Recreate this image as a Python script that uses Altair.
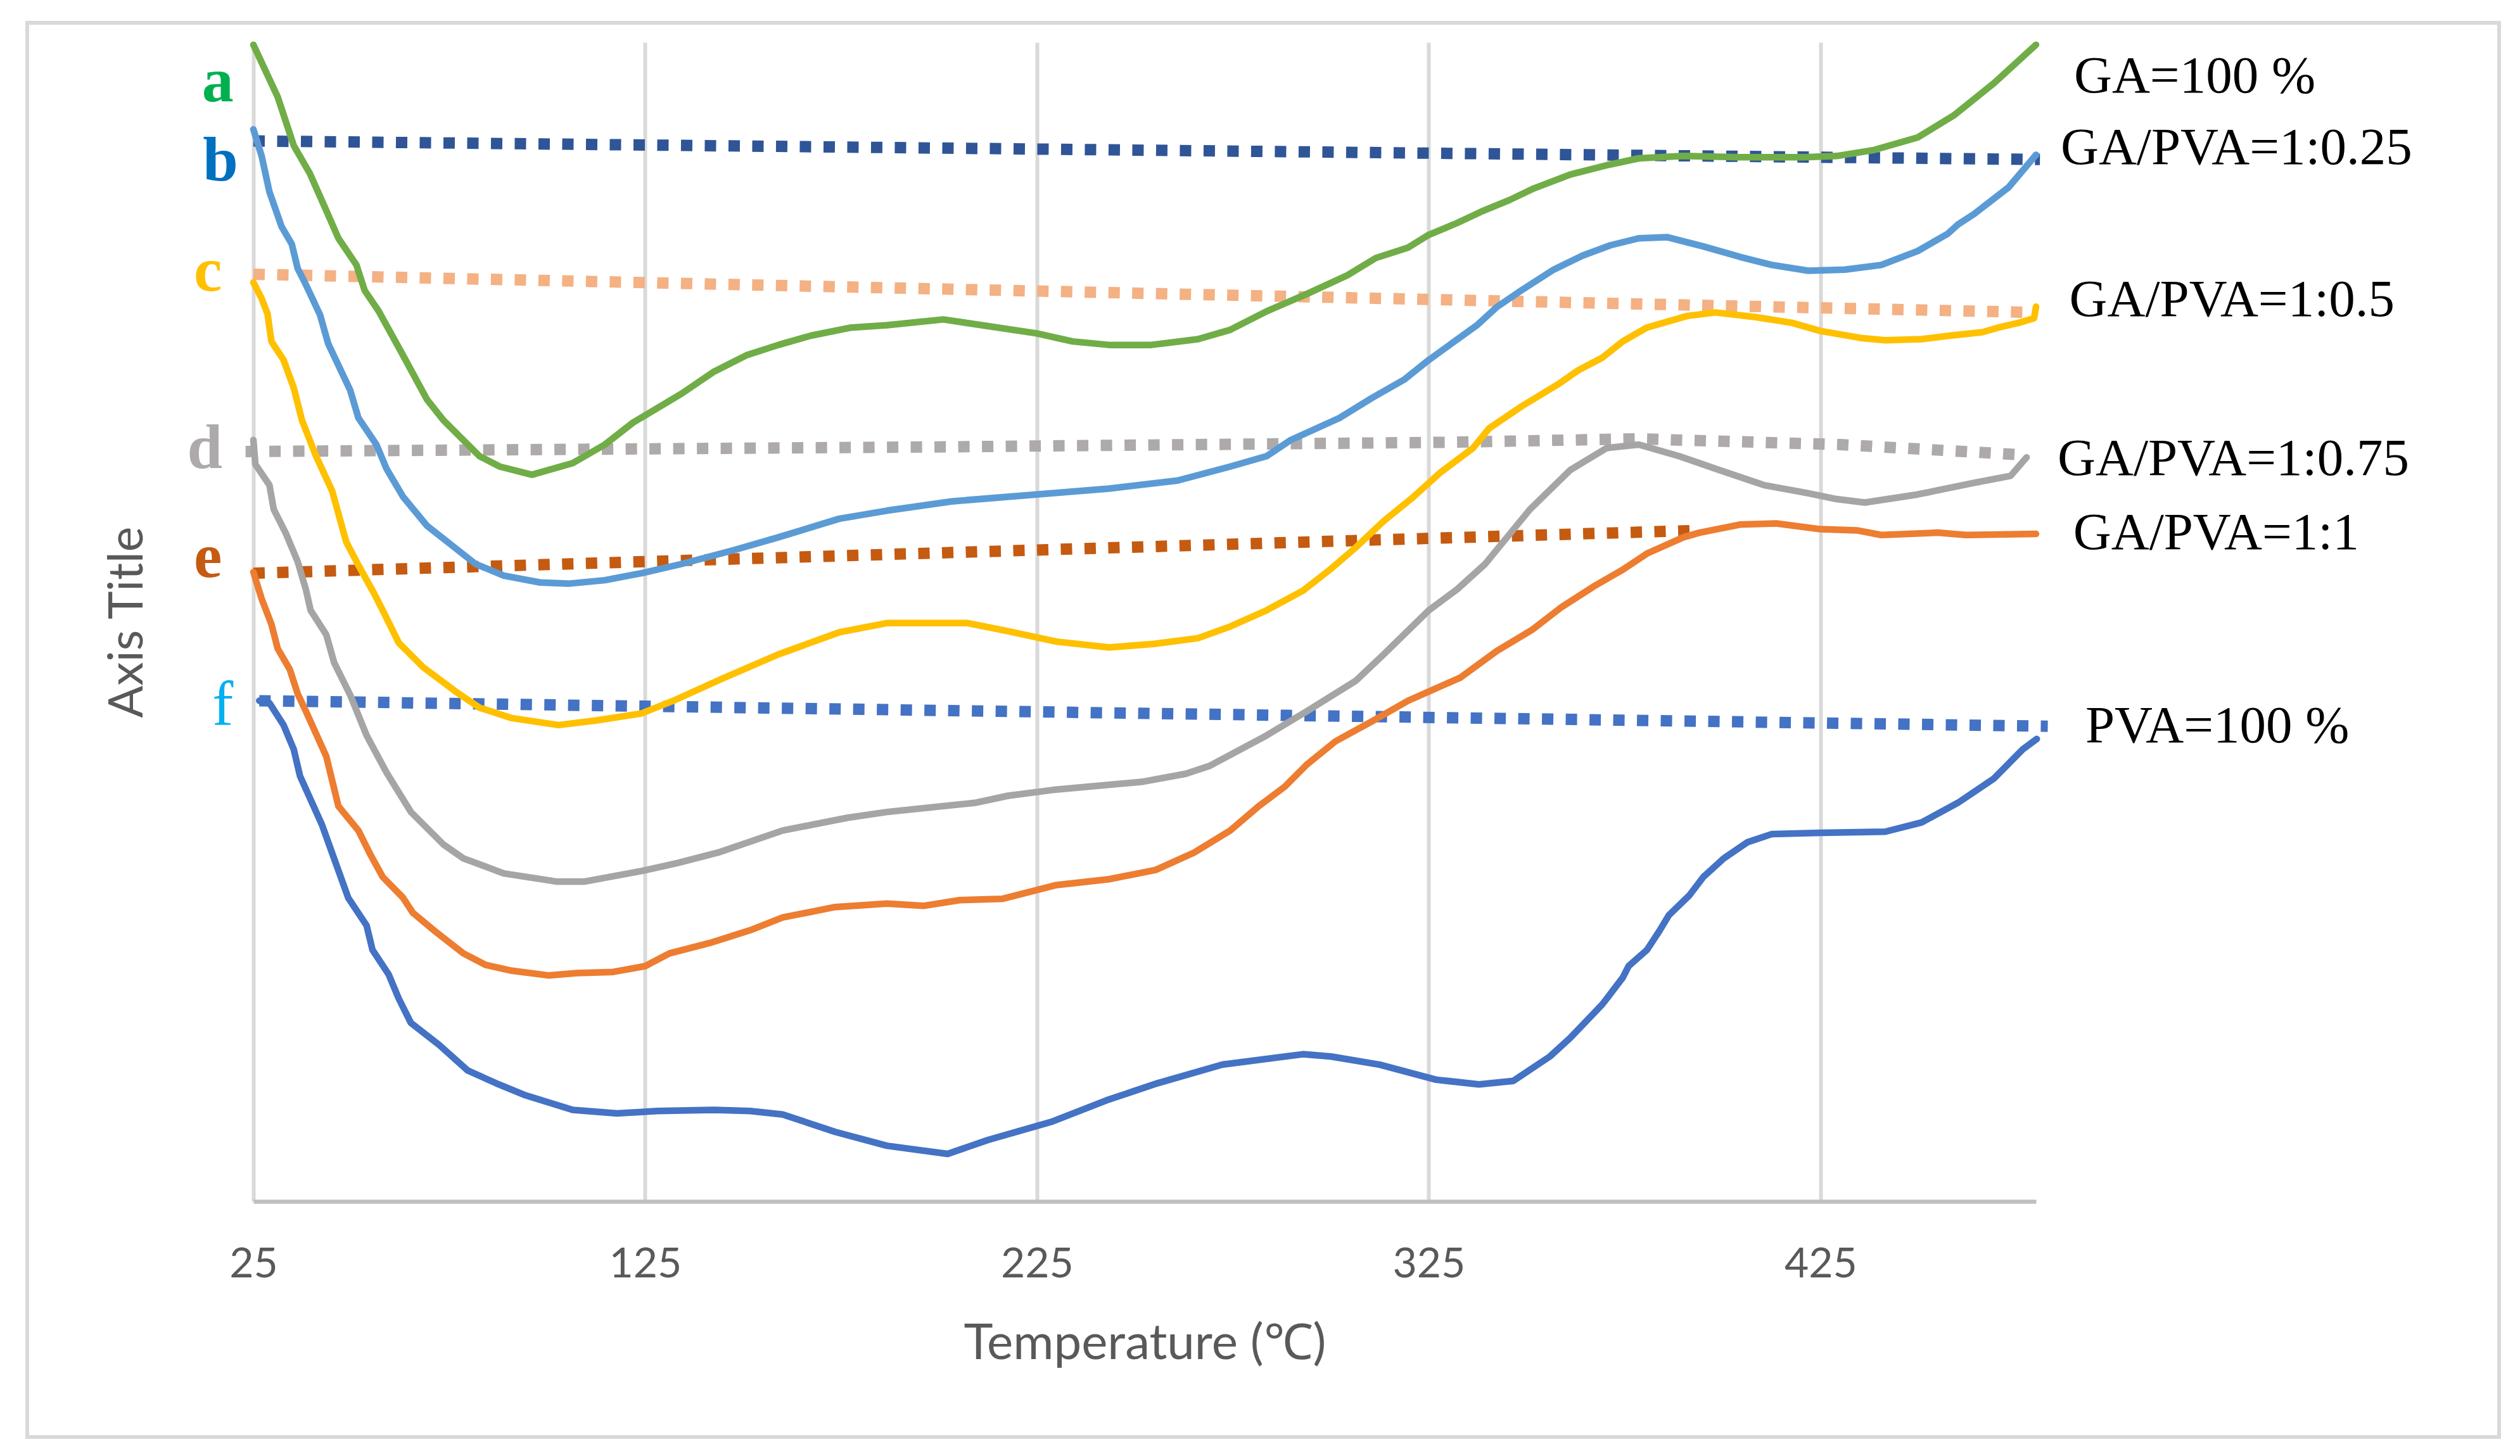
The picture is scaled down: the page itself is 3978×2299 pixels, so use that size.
import altair as alt
import pandas as pd

# ---------------- data (temperature in °C, signal in arbitrary units 0-100) ----------------
ga100_T = [25, 31.2, 35.3, 39.4, 43.6, 46.7, 51.3, 53.4, 57.0, 63.2, 69.3, 73.5, 82.7, 87.9, 96.1, 106.5,
           114.7, 121.9, 134.3, 142.6, 150.8, 159.0, 167.3, 177.6, 186.7, 201.1, 224.9, 234.1, 243.4, 254.2,
           266.1, 274.3, 283.6, 293.9, 304.2, 311.5, 319.7, 325.0, 332.1, 338.4, 345.6, 351.8, 361.1, 370.4,
           378.6, 389.9, 404.4, 420.9, 429.1, 438.4, 449.8, 459.0, 469.3, 480]
ga100_P = [99.8, 95.3, 91.1, 88.7, 85.5, 83.1, 80.8, 78.6, 76.8, 73.0, 69.2, 67.4, 64.3, 63.4, 62.7, 63.7,
           65.3, 67.2, 69.7, 71.6, 73.0, 73.9, 74.7, 75.4, 75.6, 76.1, 74.9, 74.2, 73.9, 73.9,
           74.4, 75.2, 76.8, 78.3, 79.9, 81.4, 82.3, 83.4, 84.4, 85.4, 86.4, 87.4, 88.6, 89.4,
           90.0, 90.2, 90.1, 90.1, 90.2, 90.7, 91.8, 93.7, 96.5, 99.8]

r025_T = [25, 27.1, 29.1, 32.2, 34.8, 36.3, 38.4, 42.0, 44.1, 49.7, 51.8, 56.4, 59.0, 63.2, 69.3, 81.7,
          88.9, 98.2, 105.4, 114.7, 124.0, 134.3, 147.7, 159.0, 174.5, 186.7, 203.2, 224.9, 243.4, 260.9,
          274.3, 283.6, 289.8, 302.2, 310.4, 318.7, 325.0, 337.3, 342.5, 348.6, 356.9, 364.2, 371.4, 378.6,
          385.8, 395.1, 404.4, 412.6, 421.9, 431.2, 440.5, 449.8, 457.5, 460.1, 464.2, 473.0, 480]
r025_P = [92.5, 90.2, 87.1, 84.1, 82.6, 80.5, 79.1, 76.5, 74.0, 70.0, 67.6, 65.3, 63.2, 60.8, 58.3, 55.0,
          54.0, 53.4, 53.3, 53.6, 54.2, 55.0, 56.2, 57.3, 58.9, 59.6, 60.4, 61.0, 61.5, 62.2,
          63.4, 64.3, 65.7, 67.6, 69.3, 70.9, 72.6, 75.6, 77.2, 78.6, 80.4, 81.6, 82.5, 83.1,
          83.2, 82.4, 81.5, 80.8, 80.3, 80.4, 80.8, 82.0, 83.5, 84.3, 85.2, 87.5, 90.3]

r05_T = [25, 27.1, 28.6, 29.6, 32.7, 35.3, 37.4, 41.0, 45.1, 48.7, 51.8, 55.9, 58.0, 62.1, 68.3, 76.6,
         82.7, 91.0, 102.9, 112.6, 124.0, 132.2, 144.6, 159.0, 174.5, 186.7, 207.3, 217.6, 230.0, 243.4,
         254.8, 266.1, 274.3, 283.6, 292.9, 300.1, 306.3, 313.5, 320.8, 328.0, 336.3, 340.4, 348.7, 358.0,
         363.1, 369.3, 374.5, 380.7, 391.0, 398.2, 408.5, 417.8, 425.0, 435.3, 441.5, 450.8, 458.0, 466.3,
         470.4, 475.5, 479.5, 480]
r05_P = [79.3, 77.9, 76.6, 74.2, 72.6, 70.2, 67.4, 64.3, 61.3, 56.9, 54.9, 52.4, 51.0, 48.2, 46.1, 44.0,
         42.6, 41.7, 41.1, 41.5, 42.1, 43.2, 45.1, 47.2, 49.1, 49.9, 49.9, 49.2, 48.3, 47.8,
         48.1, 48.6, 49.6, 51.0, 52.7, 54.6, 56.4, 58.7, 60.7, 62.9, 65.0, 66.7, 68.6, 70.5,
         71.7, 72.8, 74.2, 75.4, 76.4, 76.7, 76.3, 75.8, 75.1, 74.5, 74.3, 74.4, 74.7, 75.0,
         75.4, 75.8, 76.2, 77.2]

r075_T = [25, 25.5, 29.1, 30.2, 33.2, 36.3, 38.4, 39.6, 43.6, 45.6, 49.7, 53.9, 59.0, 65.2, 73.5, 78.6,
          88.9, 102.3, 109.6, 124.0, 133.3, 143.6, 160.1, 176.6, 186.7, 209.4, 217.6, 229.0, 251.7, 263.0,
          269.2, 283.6, 293.9, 306.3, 313.5, 325.0, 332.2, 339.4, 350.8, 361.1, 370.4, 378.6, 388.9, 399.2,
          410.6, 421.9, 429.1, 436.3, 449.8, 464.2, 473.5, 477.6]
r075_P = [65.7, 63.6, 61.8, 59.7, 57.7, 55.2, 52.8, 51.0, 48.9, 46.5, 43.7, 40.2, 37.0, 33.6, 30.8, 29.6,
          28.3, 27.6, 27.6, 28.5, 29.2, 30.1, 32.0, 33.1, 33.6, 34.4, 35.0, 35.5, 36.2, 36.9,
          37.6, 40.2, 42.3, 44.9, 47.2, 51.0, 52.8, 55.0, 59.7, 63.1, 65.0, 65.3, 64.3, 63.1,
          61.8, 61.1, 60.6, 60.3, 61.0, 62.0, 62.6, 64.2]

r1_T = [25, 27.1, 29.6, 31.2, 34.3, 36.3, 38.4, 43.6, 46.7, 51.8, 54.9, 58.0, 63.2, 65.7, 71.4, 78.6,
        84.3, 91.0, 100.3, 107.5, 116.8, 125.0, 131.2, 141.5, 151.8, 160.1, 173.5, 186.7, 196.0, 205.3,
        216.1, 230.0, 243.4, 255.3, 265.1, 274.3, 281.6, 288.3, 293.9, 301.2, 310.4, 319.7, 333.1, 342.4,
        351.3, 359.0, 367.3, 374.5, 380.7, 390.0, 394.1, 404.4, 413.7, 425.0, 434.3, 440.5, 454.9, 462.1, 480]
r1_P = [54.3, 52.0, 49.8, 47.7, 45.9, 43.8, 42.3, 38.4, 34.1, 32.0, 29.9, 28.0, 26.2, 24.9, 23.3, 21.4,
        20.4, 19.9, 19.5, 19.7, 19.8, 20.3, 21.4, 22.3, 23.4, 24.5, 25.4, 25.7, 25.5, 26.0,
        26.1, 27.3, 27.8, 28.6, 30.1, 32.0, 34.1, 35.8, 37.7, 39.7, 41.4, 43.2, 45.2, 47.5,
        49.3, 51.3, 53.1, 54.5, 55.9, 57.3, 57.7, 58.4, 58.5, 58.0, 57.9, 57.5, 57.7, 57.5, 57.6]

pva_T = [26.5, 29.1, 32.7, 35.3, 36.9, 42.5, 49.2, 53.9, 55.4, 59.5, 62.1, 65.2, 72.4, 79.7, 86.9, 94.1,
         106.5, 117.8, 128.1, 142.6, 151.8, 160.1, 173.5, 186.7, 202.2, 212.5, 229.0, 243.4, 255.8, 272.3,
         292.9, 300.1, 312.5, 326.9, 337.8, 346.6, 355.9, 361.1, 369.3, 374.5, 376.0, 380.7, 383.8, 386.3,
         391.5, 395.1, 400.3, 406.4, 412.6, 425.0, 441.5, 450.8, 460.1, 469.3, 476.6, 480.2]
pva_P = [43.2, 43.0, 41.1, 39.0, 36.7, 32.5, 26.2, 23.8, 21.7, 19.6, 17.5, 15.4, 13.5, 11.3, 10.2, 9.2,
         7.9, 7.6, 7.8, 7.9, 7.8, 7.5, 6.0, 4.8, 4.1, 5.3, 6.9, 8.8, 10.2, 11.8,
         12.7, 12.5, 11.8, 10.5, 10.1, 10.4, 12.5, 14.1, 17.0, 19.3, 20.3, 21.7, 23.3, 24.7,
         26.4, 28.0, 29.6, 31.0, 31.7, 31.8, 31.9, 32.7, 34.4, 36.5, 39.0, 39.9]

# dotted baselines
b_dot_T = [25, 481];  b_dot_P = [91.5, 89.9]
c_dot_T = [25, 480];  c_dot_P = [80.0, 76.7]
d_dot_T = [23, 200, 330, 378, 430, 477.6];  d_dot_P = [64.7, 65.1, 65.5, 65.8, 65.3, 64.4]
e_dot_T = [25, 394];  e_dot_P = [54.2, 57.9]
f_dot_T = [26.5, 483];  f_dot_P = [43.2, 41.0]

# annotations
series_labels = ["GA=100 %", "GA/PVA=1:0.25", "GA/PVA=1:0.5", "GA/PVA=1:0.75", "GA/PVA=1:1", "PVA=100 %"]
series_label_T = [489.7, 486.3, 488.5, 485.5, 489.5, 492.6]
series_label_P = [95.7, 89.5, 76.4, 62.7, 56.3, 39.6]

letters = ["a", "b", "c", "d", "e"]
letter_T = [15.9, 16.6, 13.4, 12.6, 13.4]
letter_P = [94.9, 88.1, 78.6, 63.3, 53.9]
letter_colors = ["#00B050", "#0070C0", "#FFC000", "#AEAAAA", "#C55A11"]
letter_f = ["f"]; letter_f_T = [17.2]; letter_f_P = [41.1]

x_ticks = [25, 125, 225, 325, 425]

# ---------------- chart ----------------
W, H = 2814, 1830
xscale = alt.Scale(domain=[25, 480], nice=False, zero=False)
yscale = alt.Scale(domain=[0, 100], nice=False, zero=False)

xaxis = alt.Axis(values=x_ticks, grid=True, gridColor="#D9D9D9", gridWidth=6, ticks=False, tickSize=0,
                 domainColor="#BFBFBF", domainWidth=6.5, labelFont="Lato", labelFontSize=66,
                 labelColor="#595959", labelPadding=67, labelFlush=False, labelOverlap=False,
                 title="Temperature (℃)", titleFont="Lato", titleFontSize=78, titleColor="#595959",
                 titleFontWeight="normal", titleX=W / 2, titleY=248, titleAlign="center",
                 titleBaseline="alphabetic")
yaxis = alt.Axis(labels=False, ticks=False, domain=False, grid=False, title="Axis Title",
                 titleFont="Lato", titleFontSize=75, titleColor="#595959", titleFontWeight="normal",
                 titleAngle=270, titleX=-176, titleY=H / 2, titleAlign="center",
                 titleBaseline="alphabetic")

X = alt.X("T:Q", scale=xscale, axis=xaxis)
Y = alt.Y("P:Q", scale=yscale, axis=yaxis)


def line(T, P, color, dotted=False):
    df = pd.DataFrame({"T": T, "P": P})
    if dotted:
        m = alt.Chart(df).mark_line(color=color, strokeWidth=18, strokeDash=[18, 19.5], strokeCap="butt")
    else:
        m = alt.Chart(df).mark_line(color=color, strokeWidth=10.5, strokeJoin="round", strokeCap="round")
    return m.encode(x=X, y=Y)


border = alt.Chart(pd.DataFrame({"k": [0]})).mark_rect(
    fill="transparent", stroke="#D9D9D9", strokeWidth=6
).encode(x=alt.value(-357), x2=alt.value(3545), y=alt.value(-31), y2=alt.value(2202))

dots = [
    line(b_dot_T, b_dot_P, "#2F5597", True),
    line(c_dot_T, c_dot_P, "#F4B183", True),
    line(d_dot_T, d_dot_P, "#AEAAAA", True),
    line(e_dot_T, e_dot_P, "#C55A11", True),
    line(f_dot_T, f_dot_P, "#4472C4", True),
]
solids = [
    line(ga100_T, ga100_P, "#70AD47"),
    line(r025_T, r025_P, "#5B9BD5"),
    line(r05_T, r05_P, "#FFC000"),
    line(r075_T, r075_P, "#A5A5A5"),
    line(r1_T, r1_P, "#ED7D31"),
    line(pva_T, pva_P, "#4472C4"),
]

lab_df = pd.DataFrame({"T": series_label_T, "P": series_label_P, "txt": series_labels})
labels = alt.Chart(lab_df).mark_text(
    font="Liberation Serif", fontSize=83, color="#000000", align="left", baseline="alphabetic"
).encode(x=X, y=Y, text="txt:N")

let_df = pd.DataFrame({"T": letter_T, "P": letter_P, "txt": letters, "col": letter_colors})
letter_marks = alt.Chart(let_df).mark_text(
    font="Liberation Serif", fontSize=100, fontWeight="bold", align="center", baseline="alphabetic"
).encode(x=X, y=Y, text="txt:N", color=alt.Color("col:N", scale=None))

f_df = pd.DataFrame({"T": letter_f_T, "P": letter_f_P, "txt": letter_f})
f_mark = alt.Chart(f_df).mark_text(
    font="Liberation Serif", fontSize=100, color="#00B0F0", align="center", baseline="alphabetic"
).encode(x=X, y=Y, text="txt:N")

chart = alt.layer(border, *dots, *solids, labels, letter_marks, f_mark).properties(
    width=W, height=H,
    padding={"left": 392, "top": 59, "right": 756, "bottom": 394},
    autosize=alt.AutoSizeParams(type="none"),
    background="white",
).configure_view(stroke=None)

chart.save("out.html", embed_options={"renderer": "svg", "actions": False})
